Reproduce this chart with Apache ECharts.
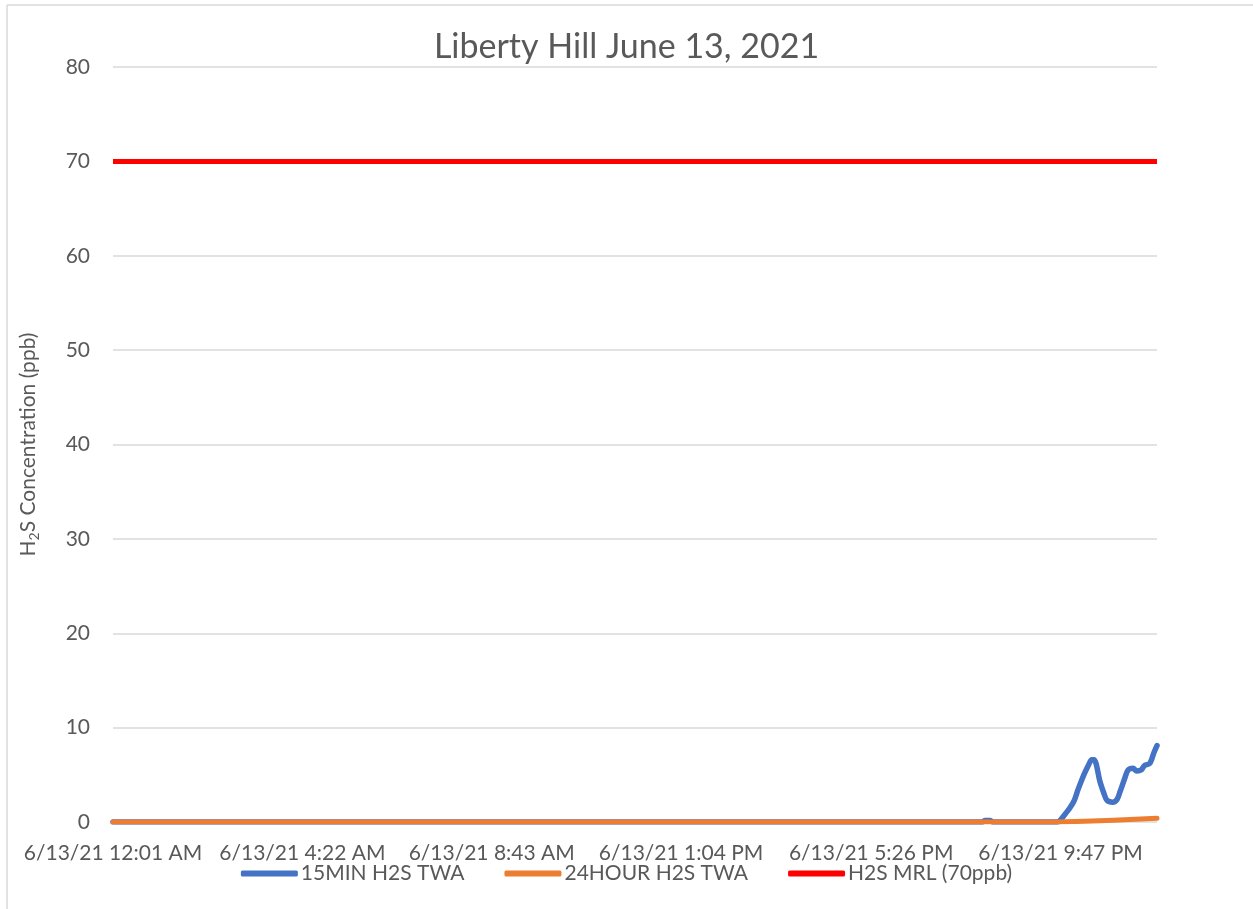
<!DOCTYPE html>
<html>
<head>
<meta charset="utf-8">
<script src="https://cdn.jsdelivr.net/npm/echarts@6/dist/echarts.min.js"></script>
<style>
html,body{margin:0;padding:0;background:#fff;}
#c{width:1253px;height:909px;}
</style>
</head>
<body>
<div id="c"></div>
<script>
// x values are minutes after midnight on 6/13/21 (minute 1 = 12:01 AM)
var tickMinutes = [1, 262, 523, 784, 1046, 1307];
var tickLabels = ['6/13/21 12:01 AM', '6/13/21 4:22 AM', '6/13/21 8:43 AM', '6/13/21 1:04 PM', '6/13/21 5:26 PM', '6/13/21 9:47 PM'];
var yTicks = [0, 10, 20, 30, 40, 50, 60, 70, 80];

var seriesNames = ['15MIN H2S TWA', '24HOUR H2S TWA', 'H2S MRL (70ppb)'];

var twa15Minutes = [1, 1199, 1203, 1210, 1214, 1303, 1308, 1313, 1320, 1326, 1331, 1336, 1341, 1346, 1350, 1353, 1356, 1361, 1367, 1371, 1379, 1385, 1389, 1395, 1400, 1407, 1412, 1418, 1423, 1430, 1436, 1440];
var twa15Values  = [0, 0, 0.15, 0.15, 0, 0, 0.3, 0.8, 1.5, 2.3, 3.4, 4.4, 5.3, 6.1, 6.6, 6.6, 6.2, 4.4, 3.0, 2.3, 2.1, 2.4, 3.2, 4.5, 5.5, 5.7, 5.4, 5.5, 6.0, 6.2, 7.4, 8.1];

var twa24Minutes = [1, 1300, 1340, 1380, 1410, 1440];
var twa24Values  = [0, 0, 0.08, 0.18, 0.28, 0.4];

var mrlMinutes = [1, 1440];
var mrlValues  = [70, 70];

function pairs(xs, ys) { return xs.map(function (x, i) { return [x, ys[i]]; }); }

var FONT = 'Lato';
var TXT = '#595959';

var chart = echarts.init(document.getElementById('c'));
chart.setOption({
  animation: false,
  backgroundColor: '#ffffff',
  textStyle: { fontFamily: FONT },
  title: {
    text: 'Liberty Hill June 13, 2021',
    left: 'center',
    top: 25,
    textStyle: { fontFamily: FONT, fontSize: 34, fontWeight: 'normal', color: TXT }
  },
  grid: { left: 113, right: 96, top: 67, bottom: 87, containLabel: false },
  legend: {
    bottom: 20,
    left: 'center',
    itemWidth: 57,
    itemHeight: 6,
    itemGap: 40,
    icon: 'roundRect',
    textStyle: { fontFamily: FONT, fontSize: 21, color: TXT, padding: [0, 0, 0, -2] },
    data: seriesNames
  },
  xAxis: {
    type: 'value',
    min: 1,
    max: 1440,
    axisLine: { show: false },
    axisTick: { show: false },
    splitLine: { show: false },
    axisLabel: {
      customValues: tickMinutes,
      fontFamily: FONT,
      fontSize: 21,
      color: TXT,
      margin: 21,
      formatter: function (v) {
        var i = tickMinutes.indexOf(Math.round(v));
        return i >= 0 ? tickLabels[i] : '';
      }
    }
  },
  yAxis: {
    type: 'value',
    min: yTicks[0],
    max: yTicks[yTicks.length - 1],
    interval: 10,
    axisLine: { show: false },
    axisTick: { show: false },
    splitLine: { lineStyle: { color: '#d9d9d9', width: 1.5 } },
    axisLabel: { fontFamily: FONT, fontSize: 21, color: TXT, margin: 23 },
    name: '{a|H}{s|2}{a|S Concentration (ppb)}',
    nameLocation: 'middle',
    nameRotate: 90,
    nameGap: 72,
    nameTextStyle: {
      color: TXT,
      rich: {
        a: { fontFamily: FONT, fontSize: 21, color: TXT },
        s: { fontFamily: FONT, fontSize: 14, color: TXT, padding: [12, 0, 0, 0] }
      }
    }
  },
  series: [
    {
      name: seriesNames[0], type: 'line', showSymbol: false, symbol: 'none',
      data: pairs(twa15Minutes, twa15Values), smooth: 0.3,
      itemStyle: { color: '#4472C4' },
      lineStyle: { color: '#4472C4', width: 5.5, cap: 'round', join: 'round' }
    },
    {
      name: seriesNames[1], type: 'line', showSymbol: false, symbol: 'none',
      data: pairs(twa24Minutes, twa24Values),
      itemStyle: { color: '#ED7D31' },
      lineStyle: { color: '#ED7D31', width: 5, cap: 'round', join: 'round' }
    },
    {
      name: seriesNames[2], type: 'line', showSymbol: false, symbol: 'none',
      data: pairs(mrlMinutes, mrlValues),
      itemStyle: { color: '#FF0000' },
      lineStyle: { color: '#FF0000', width: 5 }
    }
  ],
  graphic: [
    { type: 'line', shape: { x1: 7, y1: 5, x2: 7, y2: 909 }, style: { stroke: '#d9d9d9', lineWidth: 1.5 }, silent: true },
    { type: 'line', shape: { x1: 7, y1: 5, x2: 1253, y2: 5 }, style: { stroke: '#d9d9d9', lineWidth: 1.5 }, silent: true }
  ]
});
</script>
</body>
</html>
